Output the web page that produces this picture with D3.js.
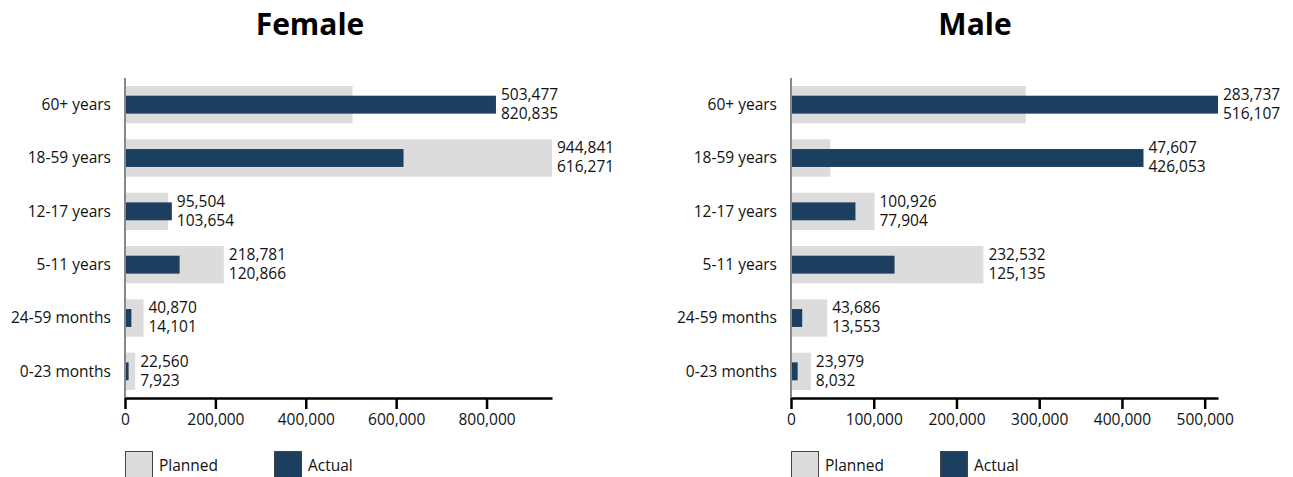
<!DOCTYPE html>
<html>
<head>
<meta charset="utf-8">
<script src="https://cdn.jsdelivr.net/npm/d3@7"></script>
<style>
  html, body { margin: 0; padding: 0; background: #fff; }
  svg { display: block; font-family: "Open Sans", "Noto Sans", sans-serif; }
</style>
</head>
<body>
<svg id="chart" width="1293" height="477"></svg>
<script>
// Age groups, top to bottom
const categories = ["60+ years", "18-59 years", "12-17 years", "5-11 years", "24-59 months", "0-23 months"];

// People reached by sex: planned target vs actual
const femalePlanned = [503477, 944841, 95504, 218781, 40870, 22560];
const femaleActual  = [820835, 616271, 103654, 120866, 14101, 7923];
const malePlanned   = [283737, 47607, 100926, 232532, 43686, 23979];
const maleActual    = [516107, 426053, 77904, 125135, 13553, 8032];

const femaleTicks = [0, 200000, 400000, 600000, 800000];
const maleTicks   = [0, 100000, 200000, 300000, 400000, 500000];

const COLOR_PLANNED = "#dcdcdc";
const COLOR_ACTUAL = "#1c3f5f";
const FONT_SIZE = 15.5;

const svg = d3.select("#chart");
const fmt = d3.format(",");

const panels = [
  { title: "Female", planned: femalePlanned, actual: femaleActual, ticks: femaleTicks, x0: 125, titleX: 310 },
  { title: "Male",   planned: malePlanned,   actual: maleActual,   ticks: maleTicks,   x0: 791, titleX: 975 }
];

const plotW = 427, plotTop = 78, plotBottom = 398;

panels.forEach(p => {
  const g = svg.append("g");
  const maxVal = d3.max(p.planned.concat(p.actual));
  const x = d3.scaleLinear().domain([0, maxVal]).range([p.x0, p.x0 + plotW]);
  const y = d3.scaleBand().domain(categories).range([plotTop, plotBottom]).paddingInner(0.3).paddingOuter(0.15);
  const bw = y.bandwidth();
  const aw = bw * 0.48;

  g.append("text")
    .attr("x", p.titleX).attr("y", 35)
    .attr("text-anchor", "middle")
    .attr("font-size", 30).attr("font-weight", "bold").attr("fill", "#000")
    .text(p.title);

  const rows = categories.map((c, i) => ({ c, planned: p.planned[i], actual: p.actual[i] }));

  g.selectAll("rect.planned").data(rows).join("rect")
    .attr("class", "planned")
    .attr("x", x(0)).attr("y", d => y(d.c))
    .attr("width", d => x(d.planned) - x(0)).attr("height", bw)
    .attr("fill", COLOR_PLANNED);

  g.selectAll("rect.actual").data(rows).join("rect")
    .attr("class", "actual")
    .attr("x", x(0)).attr("y", d => y(d.c) + (bw - aw) / 2)
    .attr("width", d => x(d.actual) - x(0)).attr("height", aw)
    .attr("fill", COLOR_ACTUAL);

  // value labels: planned above, actual below
  const labelX = d => x(Math.max(d.planned, d.actual)) + 5;
  const lbl = g.selectAll("text.val").data(rows).join("text")
    .attr("class", "val")
    .attr("x", labelX)
    .attr("y", d => y(d.c) + bw / 2)
    .attr("font-size", FONT_SIZE).attr("fill", "#111");
  lbl.append("tspan").attr("x", labelX).attr("dy", "-0.3em").text(d => fmt(d.planned));
  lbl.append("tspan").attr("x", labelX).attr("dy", "1.22em").text(d => fmt(d.actual));

  // category axis
  g.append("line")
    .attr("x1", x(0)).attr("x2", x(0)).attr("y1", plotTop).attr("y2", plotBottom)
    .attr("stroke", "#888").attr("stroke-width", 2);
  g.selectAll("text.cat").data(categories).join("text")
    .attr("class", "cat")
    .attr("x", x(0) - 14).attr("y", d => y(d) + bw / 2)
    .attr("dy", "0.35em").attr("text-anchor", "end")
    .attr("font-size", FONT_SIZE).attr("fill", "#111")
    .text(d => d);

  // value axis
  const xAxis = g.append("g")
    .attr("transform", `translate(0,${plotBottom})`)
    .call(d3.axisBottom(x).tickValues(p.ticks).tickFormat(fmt).tickSize(11).tickPadding(5).tickSizeOuter(0));
  xAxis.select(".domain").attr("stroke", "#000").attr("stroke-width", 2.5);
  xAxis.selectAll(".tick line").attr("stroke", "#000").attr("stroke-width", 2.5);
  xAxis.selectAll(".tick text").attr("font-size", FONT_SIZE).attr("fill", "#111")
    .attr("font-family", "\"Open Sans\", \"Noto Sans\", sans-serif");

  // legend
  const legend = [
    { name: "Planned", color: COLOR_PLANNED, dx: 0 },
    { name: "Actual", color: COLOR_ACTUAL, dx: 149 }
  ];
  const lg = g.selectAll("g.leg").data(legend).join("g")
    .attr("class", "leg")
    .attr("transform", d => `translate(${x(0) + d.dx},451)`);
  lg.append("rect").attr("x", 0.5).attr("y", 0.5).attr("width", 27).attr("height", 30)
    .attr("fill", d => d.color).attr("stroke", "#444").attr("stroke-width", 1);
  lg.append("text").attr("x", 34).attr("y", 20)
    .attr("font-size", FONT_SIZE).attr("fill", "#111").text(d => d.name);
});
</script>
</body>
</html>
